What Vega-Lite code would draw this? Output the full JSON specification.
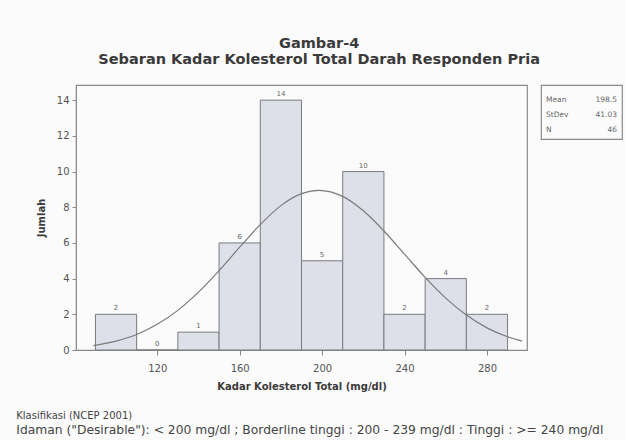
{
  "$schema": "https://vega.github.io/schema/vega-lite/v6.json",
  "background": "#fbfbfb",
  "padding": {"left": 15, "top": 35, "right": 3, "bottom": 3},
  "title": {
    "text": ["Gambar-4", "Sebaran Kadar Kolesterol Total Darah Responden Pria"],
    "anchor": "middle",
    "font": "DejaVu Sans",
    "fontSize": 14.5,
    "fontWeight": "bold",
    "lineHeight": 16,
    "color": "#3a3a3a",
    "offset": 17
  },
  "datasets": {
    "bins": [
      {"bin_start": 90, "bin_end": 110, "mid": 100, "count": 2},
      {"bin_start": 110, "bin_end": 130, "mid": 120, "count": 0},
      {"bin_start": 130, "bin_end": 150, "mid": 140, "count": 1},
      {"bin_start": 150, "bin_end": 170, "mid": 160, "count": 6},
      {"bin_start": 170, "bin_end": 190, "mid": 180, "count": 14},
      {"bin_start": 190, "bin_end": 210, "mid": 200, "count": 5},
      {"bin_start": 210, "bin_end": 230, "mid": 220, "count": 10},
      {"bin_start": 230, "bin_end": 250, "mid": 240, "count": 2},
      {"bin_start": 250, "bin_end": 270, "mid": 260, "count": 4},
      {"bin_start": 270, "bin_end": 290, "mid": 280, "count": 2}
    ],
    "curve": [
      {"x": 89, "y": 0.25}, {"x": 100, "y": 0.5}, {"x": 110, "y": 0.87},
      {"x": 120, "y": 1.44}, {"x": 130, "y": 2.22}, {"x": 140, "y": 3.24},
      {"x": 150, "y": 4.45}, {"x": 160, "y": 5.76}, {"x": 170, "y": 7.03},
      {"x": 180, "y": 8.09}, {"x": 190, "y": 8.76}, {"x": 198.5, "y": 8.95},
      {"x": 210, "y": 8.61}, {"x": 220, "y": 7.8}, {"x": 230, "y": 6.67},
      {"x": 240, "y": 5.37}, {"x": 250, "y": 4.07}, {"x": 260, "y": 2.91},
      {"x": 270, "y": 1.96}, {"x": 280, "y": 1.24}, {"x": 290, "y": 0.74},
      {"x": 297, "y": 0.5}
    ],
    "stats": [
      {"stat": "Mean", "val": "198.5"},
      {"stat": "StDev", "val": "41.03"},
      {"stat": "N", "val": "46"}
    ]
  },
  "hconcat": [
    {
      "width": 451,
      "height": 265,
      "title": {
        "text": "Klasifikasi (NCEP 2001)",
        "subtitle": "Idaman (\"Desirable\"): < 200 mg/dl  ; Borderline tinggi : 200 - 239 mg/dl : Tinggi : >= 240 mg/dl",
        "orient": "bottom",
        "anchor": "start",
        "frame": "bounds",
        "font": "DejaVu Sans",
        "fontSize": 10,
        "fontWeight": "normal",
        "color": "#454545",
        "subtitleFont": "DejaVu Sans",
        "subtitleFontSize": 12.3,
        "subtitleColor": "#454545",
        "subtitlePadding": 3,
        "offset": 20,
        "dx": -20
      },
      "encoding": {
        "x": {
          "type": "quantitative",
          "scale": {"domain": [83, 297], "nice": false, "zero": false},
          "axis": {
            "title": "Kadar Kolesterol Total (mg/dl)",
            "values": [120, 160, 200, 240, 280],
            "grid": false, "tickSize": 5, "labelPadding": 8,
            "labelFont": "DejaVu Sans", "labelFontSize": 10, "labelColor": "#555",
            "titleFont": "DejaVu Sans", "titleFontSize": 10, "titleFontWeight": "bold",
            "titleColor": "#3a3a3a", "titlePadding": 8,
            "domainColor": "#888", "tickColor": "#888"
          }
        },
        "y": {
          "type": "quantitative",
          "scale": {"domain": [0, 14.85], "nice": false},
          "axis": {
            "title": "Jumlah",
            "values": [0, 2, 4, 6, 8, 10, 12, 14],
            "labelOverlap": false,
            "grid": false, "tickSize": 4, "labelPadding": 3,
            "labelFont": "DejaVu Sans", "labelFontSize": 10, "labelColor": "#555",
            "titleFont": "DejaVu Sans", "titleFontSize": 10, "titleFontWeight": "bold",
            "titleColor": "#3a3a3a", "titlePadding": 10,
            "domainColor": "#888", "tickColor": "#888"
          }
        }
      },
      "layer": [
        {
          "data": {"name": "bins"},
          "mark": {"type": "bar", "orient": "vertical", "fill": "#dde0e9", "stroke": "#7a7a80", "strokeWidth": 1},
          "encoding": {
            "x": {"field": "bin_start", "type": "quantitative"},
            "x2": {"field": "bin_end"},
            "y": {"field": "count", "type": "quantitative"},
            "y2": {"datum": 0}
          }
        },
        {
          "data": {"name": "bins"},
          "mark": {"type": "text", "dy": -6, "font": "DejaVu Sans", "fontSize": 7, "color": "#666"},
          "encoding": {
            "x": {"field": "mid", "type": "quantitative"},
            "y": {"field": "count", "type": "quantitative"},
            "text": {"field": "count", "type": "quantitative"}
          }
        },
        {
          "data": {"name": "curve"},
          "mark": {"type": "line", "color": "#7a7a7a", "strokeWidth": 1.2, "interpolate": "monotone"},
          "encoding": {
            "x": {"field": "x", "type": "quantitative"},
            "y": {"field": "y", "type": "quantitative"}
          }
        }
      ]
    },
    {
      "width": 81,
      "height": 54,
      "data": {"name": "stats"},
      "layer": [
        {
          "mark": {"type": "text", "align": "left", "font": "DejaVu Sans", "fontSize": 7.5, "color": "#666"},
          "encoding": {
            "x": {"datum": "L", "type": "nominal", "scale": {"type": "point", "domain": ["L", "R"], "padding": 0.07}, "axis": null},
            "y": {"field": "stat", "type": "nominal", "sort": ["Mean", "StDev", "N"], "scale": {"type": "point", "range": [15, 45], "padding": 0}, "axis": null},
            "text": {"field": "stat"}
          }
        },
        {
          "mark": {"type": "text", "align": "right", "font": "DejaVu Sans", "fontSize": 7.5, "color": "#666"},
          "encoding": {
            "x": {"datum": "R", "type": "nominal"},
            "y": {"field": "stat", "type": "nominal", "sort": ["Mean", "StDev", "N"]},
            "text": {"field": "val"}
          }
        }
      ]
    }
  ],
  "spacing": 14,
  "bounds": "flush",
  "config": {
    "view": {"stroke": "#8a8a8a", "strokeWidth": 1.2}
  }
}
